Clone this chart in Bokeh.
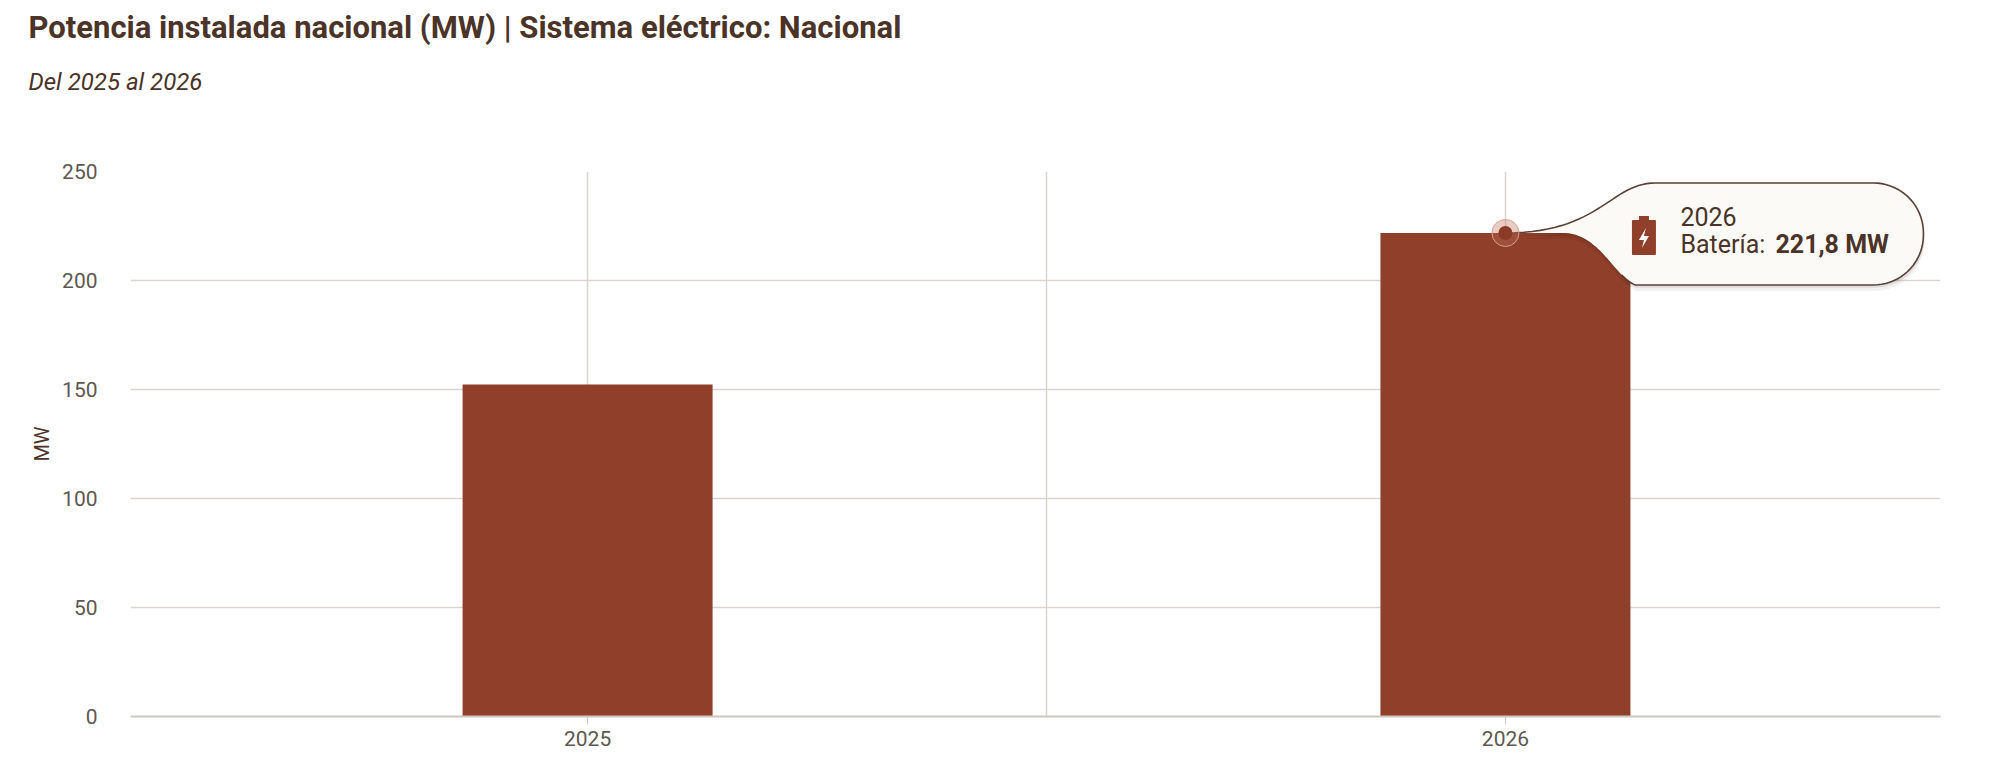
import numpy as np
from bokeh.plotting import figure
from bokeh.models import Range1d, FixedTicker, Title
from bokeh.core.properties import value
from bokeh.embed import file_html
from bokeh.resources import INLINE

# data
years = [2025, 2026]
year_labels = ["2025", "2026"]
bateria_mw = [152.3, 221.8]
y_ticks = [0, 50, 100, 150, 200, 250]

title = "Potencia instalada nacional (MW) | Sistema eléctrico: Nacional"
subtitle = "Del 2025 al 2026"
serie = "Batería"
unidad = "MW"

BAR = "#8f3f2a"
DARK = "#4b3328"
GRID = "#d9d5ce"
TICK = "#5e5751"
FONT = "Roboto"

W, H = 2000, 763
BL, BR, BT, BB = 130, 60, 171, 47
x0, x1 = 2024.502, 2026.474
y0, y1 = 0, 250
px_x = (W - BL - BR) / (x1 - x0)
px_y = (H - BT - BB) / (y1 - y0)

p = figure(width=W, height=H, x_range=Range1d(x0, x1), y_range=Range1d(y0, y1),
           output_backend="svg", toolbar_location=None,
           min_border_left=BL, min_border_right=BR, min_border_top=BT, min_border_bottom=BB)
p.outline_line_color = None
p.background_fill_color = "white"

p.ygrid.ticker = FixedTicker(ticks=y_ticks)
p.xgrid.ticker = FixedTicker(ticks=[years[0], (years[0] + years[1]) / 2, years[1]])
for g in (p.xgrid[0], p.ygrid[0]):
    g.grid_line_color = GRID
    g.grid_line_width = 1.5

p.yaxis.ticker = FixedTicker(ticks=y_ticks)
p.yaxis.axis_line_color = None
p.yaxis.major_tick_line_color = None
p.yaxis.minor_tick_line_color = None
p.yaxis.major_label_standoff = 27
p.yaxis.major_label_text_font = FONT
p.yaxis.major_label_text_font_size = "21px"
p.yaxis.major_label_text_color = TICK
p.yaxis.axis_label = unidad
p.yaxis.axis_label_text_font = FONT
p.yaxis.axis_label_text_font_size = "20px"
p.yaxis.axis_label_text_font_style = "normal"
p.yaxis.axis_label_text_color = DARK
p.yaxis.axis_label_standoff = 5

p.xaxis.ticker = FixedTicker(ticks=years)
p.xaxis.major_label_overrides = {y: s for y, s in zip(years, year_labels)}
p.xaxis.axis_line_color = "#cdc8c0"
p.xaxis.axis_line_width = 2
p.xaxis.major_tick_line_color = "#cdc8c0"
p.xaxis.major_tick_out = 8
p.xaxis.major_tick_in = 0
p.xaxis.minor_tick_line_color = None
p.xaxis.major_label_standoff = 6
p.xaxis.major_label_text_font = FONT
p.xaxis.major_label_text_font_size = "21px"
p.xaxis.major_label_text_color = TICK

p.vbar(x=years, top=bateria_mw, width=250 / px_x, bottom=0, fill_color=BAR, line_color=None)

# titles: the first one added sits next to the plot, the last one on top
p.add_layout(Title(text=" ", text_font_size="2px", standoff=57), "above")
p.add_layout(Title(text=subtitle, align="left", offset=-102, standoff=30,
                   text_font=FONT, text_font_size="24px", text_font_style="italic",
                   text_color=DARK), "above")
p.add_layout(Title(text=title, align="left", offset=-102, standoff=10,
                   text_font=FONT, text_font_size="31px", text_font_style="bold",
                   text_color=DARK), "above")

# tooltip on the last year
ax, ay = years[-1], bateria_mw[-1]


def to_data(dx, dy):
    dx = np.asarray(dx, dtype=float)
    dy = np.asarray(dy, dtype=float)
    return ax + dx / px_x, ay - dy / px_y


def bez(p0, p1, p2, p3, n=30):
    p0, p1, p2, p3 = (np.array(q, dtype=float) for q in (p0, p1, p2, p3))
    t = np.linspace(0, 1, n)[:, None]
    pts = ((1 - t) ** 3) * p0 + 3 * ((1 - t) ** 2) * t * p1 + 3 * (1 - t) * t ** 2 * p2 + t ** 3 * p3
    return pts[:, 0], pts[:, 1]


def arc(cx, cy, r, a0, a1, n=20):
    a = np.linspace(np.radians(a0), np.radians(a1), n)
    return cx + r * np.cos(a), cy - r * np.sin(a)


T, B, R, r = -50, 52, 418, 50
tx, ty = bez((0, 0), (95, 0), (105, T), (150, T))
ax1, ay1 = arc(R - r, T + r, r, 90, 0)
ax2, ay2 = arc(R - r, B - r, r, 0, -90)
bx, by = bez((130, B), (110, 45), (95, 2), (60, 0))
outline_x = np.concatenate([tx, [R - r], ax1, ax2, bx[:8]])
outline_y = np.concatenate([ty, [T], ay1, ay2, by[:8]])
shape_x = np.concatenate([tx, [R - r], ax1, ax2, bx, [0]])
shape_y = np.concatenate([ty, [T], ay1, ay2, by, [0]])

for off, alpha in ((6, 0.05), (3, 0.07)):
    sx, sy = to_data(shape_x + 1, shape_y + off)
    p.patch(sx, sy, fill_color="black", fill_alpha=alpha, line_color=None)
sx, sy = to_data(shape_x, shape_y)
p.patch(sx, sy, fill_color="#fcfaf7", line_color=None)
ox, oy = to_data(outline_x, outline_y)
p.line(ox, oy, line_color="#5a4035", line_width=1.6)

# point marker
p.scatter([ax], [ay], size=27, fill_color="#c0705a", fill_alpha=0.35, line_color="#d9a08f", line_width=1)
p.scatter([ax], [ay], size=14, fill_color="#8a3a26", line_color=None)

# battery icon
icx = 138.5
bx0, by0 = to_data([icx - 11, icx + 11], [-12, 21])
p.quad(left=bx0[0], right=bx0[1], top=by0[0], bottom=by0[1], fill_color=BAR, line_color=BAR,
       line_width=2, line_join="round")
tx0, ty0 = to_data([icx - 5, icx + 5], [-17, -12])
p.quad(left=tx0[0], right=tx0[1], top=ty0[0], bottom=ty0[1], fill_color=BAR, line_color=None)
bolt_dx = np.array([2, -5, 0, -2, 5, 0]) + icx
bolt_dy = np.array([-5, 7, 7, 15, 3, 3])
bx1, by1 = to_data(bolt_dx, bolt_dy)
p.patch(bx1, by1, fill_color="white", line_color=None)

p.text(x=[ax], y=[ay], text=[year_labels[-1]], x_offset=175, y_offset=-16,
       text_font=value(FONT), text_font_size="25px", text_color=DARK, text_baseline="alphabetic")
p.text(x=[ax], y=[ay], text=[serie + ":"], x_offset=175, y_offset=12,
       text_font=value(FONT), text_font_size="25px", text_color=DARK, text_baseline="alphabetic")
valor = f"{ay:.1f}".replace(".", ",") + " " + unidad
p.text(x=[ax], y=[ay], text=[valor], x_offset=270, y_offset=12,
       text_font=value(FONT), text_font_size="25px", text_font_style="bold",
       text_color=DARK, text_baseline="alphabetic")

open("out.html", "w").write(file_html(p, INLINE))
